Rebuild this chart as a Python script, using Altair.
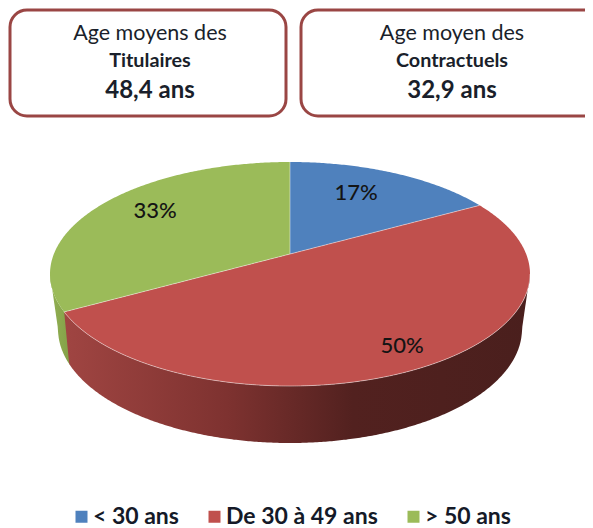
import numpy as np
import pandas as pd
import altair as alt

categories = ["< 30 ans", "De 30 à 49 ans", "> 50 ans"]
shares = [17, 50, 33]
pct_labels = ["17%", "50%", "33%"]
colors = ["#4f81bd", "#c0504d", "#9bbb59"]
box_lines = [["Age moyens des", "Titulaires", "48,4 ans"], ["Age moyen des", "Contractuels", "32,9 ans"]]
FONT = "Lato"

# Pie geometry, in the axes' units (the scales below run over the picture's extent)
CX, TOP_CY, A, B = 290.0, 274.0, 240.0, 112.0
APEX_Y = 254.0
BOT_CY, BOT_A, BOT_B = 329.0, 232.0, 114.0


def ray_hit(share_cum):
    th = 2 * np.pi * share_cum / 100
    dx, dy = A * np.sin(th), -B * np.cos(th)
    ox, oy = 0.0, APEX_Y - TOP_CY
    a_ = (dx / A) ** 2 + (dy / B) ** 2
    b_ = 2 * (ox * dx / A**2 + oy * dy / B**2)
    c_ = (ox / A) ** 2 + (oy / B) ** 2 - 1
    t = (-b_ + np.sqrt(b_**2 - 4 * a_ * c_)) / (2 * a_)
    return CX + ox + t * dx, APEX_Y + t * dy


RX, RY = ray_hit(shares[0])
LX, LY = ray_hit(shares[0] + shares[1])


def grid(x0, x1, *extra):
    t = np.linspace(0, np.pi, 361)
    xs = CX + A * np.cos(t)
    xs = xs[(xs > x0) & (xs < x1)]
    return np.unique(np.concatenate([xs, [x0, x1], list(extra)]))


def ell_top(x):
    return TOP_CY - B * np.sqrt(np.clip(1 - ((x - CX) / A) ** 2, 0, 1))


def ell_bot(x):
    return TOP_CY + B * np.sqrt(np.clip(1 - ((x - CX) / A) ** 2, 0, 1))


def ridge(x):
    """Left radius, apex, right radius."""
    return np.interp(x, [LX, CX, RX], [LY, APEX_Y, RY])


def lower(x):
    """Lower silhouette of the side wall."""
    inner = BOT_CY + BOT_B * np.sqrt(np.clip(1 - ((x - CX) / BOT_A) ** 2, 0, 1))
    out_l = x < CX - BOT_A
    out_r = x > CX + BOT_A
    y = inner.copy()
    y[out_l] = np.interp(x[out_l], [CX - A, CX - BOT_A], [TOP_CY, BOT_CY])
    y[out_r] = np.interp(x[out_r], [CX + BOT_A, CX + A], [BOT_CY, TOP_CY])
    return y


def frame(x, y, y2, cat=None):
    return pd.DataFrame({"x": x, "y": y, "y2": y2, "cat": cat})


xb = grid(CX, RX)
xr = grid(LX, CX + A, CX, RX)
xg = grid(CX - A, CX, LX)

blue = frame(xb, ell_top(xb), ridge(xb), categories[0])
red = frame(xr, np.where(xr <= RX, ridge(xr), ell_top(xr)), ell_bot(xr), categories[1])
green = frame(xg, ell_top(xg), np.where(xg < LX, ell_bot(xg), ridge(xg)), categories[2])
top_df = pd.concat([blue, red, green])

LOW_X = LX + 5
xs_g = grid(CX - A, LOW_X + 1)
side_green = frame(xs_g, ell_bot(xs_g), lower(xs_g))
xs_r = grid(LX, CX + A)
low_r = lower(xs_r)
slant = np.interp(xs_r, [LX, LOW_X], [LY, lower(np.array([LOW_X]))[0]])
low_r = np.where(xs_r < LOW_X, slant, low_r)
side_red = frame(xs_r, ell_bot(xs_r), low_r)

xsc = alt.X("x:Q", scale=alt.Scale(domain=[8, 585], nice=False, zero=False), axis=None)
ysc = alt.Y("y:Q", scale=alt.Scale(domain=[528, 8], nice=False, zero=False), axis=None)
y2c = alt.Y2("y2:Q")


def grad(stops):
    return alt.Gradient(
        gradient="linear", x1=0, x2=1, y1=0, y2=0,
        stops=[alt.GradientStop(color=c, offset=o) for o, c in stops],
    )


side_g = alt.Chart(side_green).mark_area(
    fill=grad([(0, "#93b154"), (1, "#83a047")])
).encode(x=xsc, y=ysc, y2=y2c)
side_r = alt.Chart(side_red).mark_area(
    fill=grad([(0, "#a04542"), (0.35, "#7e3230"), (0.62, "#52211f"), (1, "#4a1f1d")])
).encode(x=xsc, y=ysc, y2=y2c)

top = alt.Chart(top_df).mark_area().encode(
    x=xsc, y=ysc, y2=y2c,
    color=alt.Color(
        "cat:N",
        scale=alt.Scale(domain=categories, range=colors),
        legend=alt.Legend(
            title=None, orient="none", legendX=62, legendY=497, direction="horizontal",
            columns=3, columnPadding=24, symbolType="square", symbolSize=144,
            symbolStrokeWidth=0, symbolOpacity=1, labelFont=FONT, labelFontSize=23,
            labelFontWeight="bold", labelColor="#151a28", labelOffset=0, padding=0,
            labelLimit=300,
        ),
    ),
    detail="cat:N",
)

# Light seams along the radii and front rim
seam_x = np.array([LX, CX, RX])
seams = pd.concat([
    pd.DataFrame({"x": seam_x, "y": [LY, APEX_Y, RY], "g": "a"}),
    pd.DataFrame({"x": [CX, CX], "y": [APEX_Y, TOP_CY - B], "g": "b"}),
    pd.DataFrame({"x": xs_r, "y": ell_bot(xs_r), "g": "c"}),
])
seam = alt.Chart(seams).mark_line(color="#ffffff", opacity=0.45, strokeWidth=1).encode(
    x=xsc, y=ysc, detail="g:N"
)

boxes = pd.DataFrame({"x": [10, 301], "x2": [286, 600], "y": [10, 10], "y2": [116, 116]})
box = alt.Chart(boxes).mark_rect(
    fill="#ffffff", stroke="#9a4644", strokeWidth=3, cornerRadius=17
).encode(x=xsc, x2="x2:Q", y=ysc, y2=y2c)

text_rows = []
for cx_, lines in zip([150, 452], box_lines):
    for line, y_, size, weight in zip(lines, [33.5, 60.5, 91], [21.5, 19.8, 24], ["normal", "bold", "bold"]):
        text_rows.append({"x": cx_, "y": y_, "t": line, "s": size, "w": weight})
text_df = pd.DataFrame(text_rows)


def text_layer(weight):
    return alt.Chart(text_df[text_df.w == weight]).mark_text(
        font=FONT, fontWeight=weight, color="#1a1f2b", baseline="middle", align="center"
    ).encode(x=xsc, y=ysc, text="t:N", size=alt.Size("s:Q", scale=None, legend=None))


pct = pd.DataFrame({"x": [356, 402, 155], "y": [193, 346, 211], "t": pct_labels})
pct_text = alt.Chart(pct).mark_text(
    font=FONT, fontSize=22, fontWeight=500, color="#141414", baseline="middle", align="center"
).encode(x=xsc, y=ysc, text="t:N")

chart = alt.layer(
    box, text_layer("normal"), text_layer("bold"), side_g, side_r, top, seam, pct_text
).properties(
    width=577, height=520, padding=0, autosize=alt.AutoSizeParams(type="none")
).configure_view(stroke=None)

chart.save("out.html", embed_options={"renderer": "svg", "actions": False})
